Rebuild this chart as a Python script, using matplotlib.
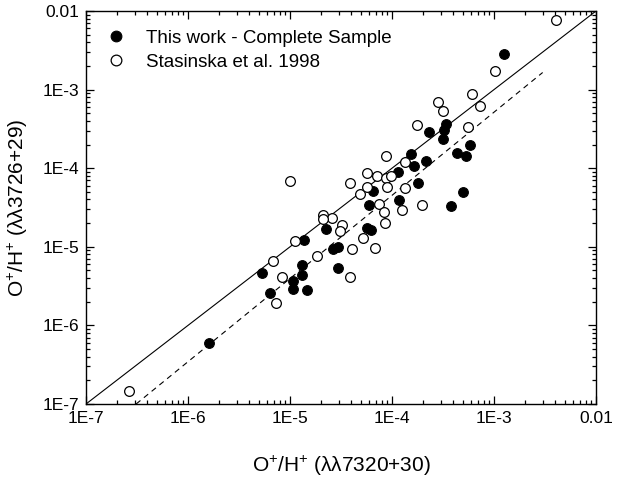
import matplotlib
matplotlib.use("Agg")
import matplotlib.pyplot as plt
from matplotlib.ticker import FixedLocator, LogLocator, NullFormatter

plt.rcParams['font.family'] = ['Liberation Sans', 'DejaVu Sans']
plt.rcParams['mathtext.fontset'] = 'custom'
plt.rcParams['mathtext.rm'] = 'Liberation Sans'

# This work - Complete Sample (filled)
this_x = [1.60e-6, 5.35e-6, 6.32e-6, 1.06e-5, 1.06e-5, 1.38e-5, 1.30e-5, 1.32e-5, 1.46e-5,
          2.63e-5, 2.94e-5, 2.94e-5, 2.24e-5, 5.65e-5, 6.19e-5, 5.96e-5, 6.49e-5, 1.16e-4,
          1.15e-4, 1.52e-4, 1.66e-4, 2.15e-4, 1.80e-4, 2.33e-4, 3.20e-4, 3.35e-4, 3.13e-4,
          4.32e-4, 5.35e-4, 5.82e-4, 4.97e-4, 3.77e-4, 1.26e-3]
this_y = [5.92e-7, 4.71e-6, 2.61e-6, 3.69e-6, 2.93e-6, 1.22e-5, 5.86e-6, 4.44e-6, 2.82e-6,
          9.31e-6, 9.80e-6, 5.30e-6, 1.68e-5, 1.72e-5, 1.64e-5, 3.40e-5, 5.06e-5, 3.94e-5,
          8.95e-5, 1.52e-4, 1.06e-4, 1.24e-4, 6.44e-5, 2.85e-4, 3.06e-4, 3.67e-4, 2.37e-4,
          1.58e-4, 1.42e-4, 1.99e-4, 4.93e-5, 3.35e-5, 2.84e-3]

# Stasinska et al. 1998 (open)
stas_x = [2.64e-7, 6.81e-6, 8.36e-6, 7.35e-6, 1.11e-5, 1.83e-5, 2.13e-5, 2.56e-5, 2.10e-5,
          3.26e-5, 3.09e-5, 4.08e-5, 5.24e-5, 6.85e-5, 3.89e-5, 9.89e-6, 3.89e-5, 4.85e-5,
          5.73e-5, 5.75e-5, 7.18e-5, 8.69e-5, 9.70e-5, 8.77e-5, 1.35e-4, 9.03e-5, 1.35e-4,
          7.42e-5, 8.36e-5, 8.63e-5, 1.24e-4, 1.95e-4, 1.76e-4, 2.84e-4, 3.13e-4, 5.62e-4,
          6.05e-4, 7.30e-4, 1.02e-3, 4.03e-3]
stas_y = [1.46e-7, 6.59e-6, 4.07e-6, 1.90e-6, 1.20e-5, 7.64e-6, 2.52e-5, 2.31e-5, 2.28e-5,
          1.88e-5, 1.57e-5, 9.29e-6, 1.31e-5, 9.75e-6, 4.17e-6, 6.97e-5, 6.48e-5, 4.70e-5,
          5.77e-5, 8.81e-5, 8.07e-5, 7.55e-5, 7.89e-5, 1.42e-4, 1.19e-4, 5.72e-5, 5.65e-5,
          3.52e-5, 2.80e-5, 1.99e-5, 2.91e-5, 3.43e-5, 3.58e-4, 7.02e-4, 5.39e-4, 3.32e-4,
          8.79e-4, 6.24e-4, 1.74e-3, 7.68e-3]

# reference lines
one_to_one = [1e-7, 1e-2]
fit_x = [3.1e-7, 3.0e-3]
fit_y = [1.0e-7, 1.65e-3]

tick_vals = [1e-7, 1e-6, 1e-5, 1e-4, 1e-3, 1e-2]
tick_labels = ["1E-7", "1E-6", "1E-5", "1E-4", "1E-3", "0.01"]

fig = plt.figure(figsize=(6.17, 4.83), dpi=100)
ax = fig.add_axes([86/617, 79/483, 510/617, 393/483])

ax.plot(one_to_one, one_to_one, color='black', lw=0.8, zorder=2)
ax.plot(fit_x, fit_y, color='black', lw=0.8, ls=(0, (5, 4)), zorder=2)

ax.plot(this_x, this_y, 'o', ms=7, mfc='black', mec='black', mew=0.8, ls='none',
        label='This work - Complete Sample', zorder=3)
ax.plot(stas_x, stas_y, 'o', ms=7, mfc='white', mec='black', mew=0.9, ls='none',
        label='Stasinska et al. 1998', zorder=3)

ax.set_xscale('log')
ax.set_yscale('log')
ax.set_xlim(1e-7, 1e-2)
ax.set_ylim(1e-7, 1e-2)

for axis in (ax.xaxis, ax.yaxis):
    axis.set_major_locator(FixedLocator(tick_vals))
    axis.set_minor_locator(LogLocator(base=10, subs=range(2, 10), numticks=100))
    axis.set_minor_formatter(NullFormatter())
ax.set_xticklabels(tick_labels)
ax.set_yticklabels(tick_labels)

ax.tick_params(which='both', direction='in', top=True, right=True, width=0.9, color='black')
ax.tick_params(which='major', length=6, labelsize=12.5, pad=5)
ax.tick_params(which='minor', length=3)
for s in ax.spines.values():
    s.set_linewidth(1.0)

ax.set_xlabel(r'$\mathregular{O^{+}/H^{+}}$ (λλ7320+30)', fontsize=15, labelpad=20)
ax.set_ylabel(r'$\mathregular{O^{+}/H^{+}}$ (λλ3726+29)', fontsize=15, labelpad=9)

leg = ax.legend(loc='upper left', frameon=False, fontsize=13.5, handletextpad=1.0,
                borderaxespad=0.6, labelspacing=0.35, handlelength=1.2, markerscale=1.1)

fig.savefig('out.png', dpi=100)
